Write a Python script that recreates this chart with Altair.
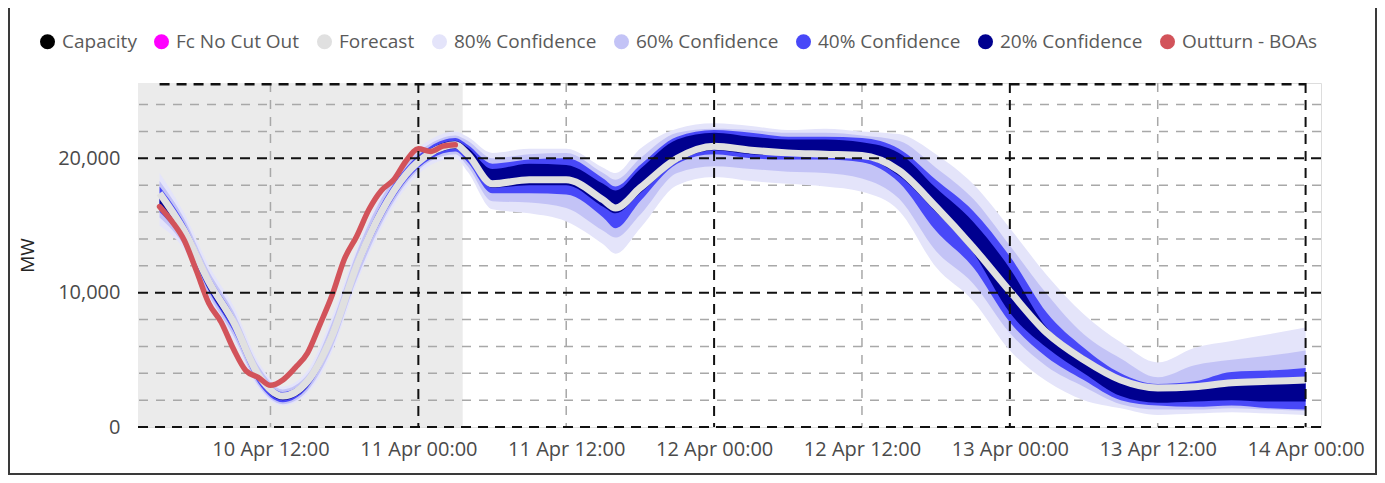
import altair as alt
import pandas as pd

BASE = pd.Timestamp("2024-04-10T00:00:00")


def ts(hours):
    return [(BASE + pd.Timedelta(hours=h)).strftime("%Y-%m-%dT%H:%M:%S") for h in hours]


def dt(h):
    d = BASE + pd.Timedelta(hours=h)
    return alt.DateTime(year=d.year, month=d.month, date=d.day, hours=d.hour, minutes=d.minute)


# ---------------- data (MW), hours after 10 Apr 00:00 ----------------
band_hours = [3, 5, 7, 9, 11, 13, 15, 17, 19, 21, 23, 25, 27,
              28, 30, 33, 36, 39, 40, 42, 45, 48, 51, 54, 57, 60,
              63, 66, 69, 72, 75, 78, 81, 84, 87, 90, 93, 96]
forecast = [17400, 14600, 10800, 7800, 3900, 2300, 3400, 6800, 12000, 16000, 18800, 20400, 21000,
            20300, 18100, 18400, 18400, 16900, 16300, 17800, 20000, 20900, 20600, 20400, 20300, 20200,
            19100, 16400, 13400, 10100, 7000, 5000, 3500, 2900, 3000, 3300, 3400, 3500]
p80_lo = [15000, 13200, 9500, 6500, 2900, 1600, 2500, 5600, 10700, 14800, 17800, 19500, 20000,
          19000, 16200, 15900, 15300, 13600, 12900, 14800, 18000, 18600, 18300, 18100, 17900, 17500,
          16100, 11900, 9400, 5700, 3400, 2000, 1400, 900, 1000, 1100, 1000, 900]
p80_hi = [18900, 15900, 12000, 9000, 4900, 3000, 4200, 8200, 13300, 17300, 19900, 21400, 22000,
          21600, 20400, 20700, 20700, 19300, 18900, 20700, 22200, 22600, 22400, 22100, 22200, 22000,
          21800, 20300, 18100, 14800, 11300, 8400, 6300, 4800, 5900, 6400, 6900, 7400]
p60_lo = [15600, 13500, 9800, 6800, 3100, 1700, 2700, 5900, 11000, 15100, 18100, 19800, 20300,
          19400, 16800, 16700, 16300, 14600, 14100, 15800, 18900, 19400, 19200, 19000, 18900, 18500,
          17000, 13100, 10700, 7000, 4500, 3000, 1700, 1300, 1300, 1400, 1300, 1200]
p60_hi = [18300, 15500, 11600, 8600, 4600, 2800, 3900, 7800, 13000, 17000, 19600, 21100, 21700,
          21300, 20000, 20300, 20400, 18900, 18400, 20000, 21900, 22200, 22100, 21900, 21900, 21700,
          21300, 19300, 17000, 13500, 9900, 6900, 5100, 3700, 4600, 5000, 5300, 5700]
p40_lo = [16000, 13800, 10100, 7100, 3300, 1850, 2900, 6300, 11400, 15400, 18300, 19950, 20500,
          19700, 17400, 17400, 17300, 15600, 14800, 16800, 19600, 20300, 20000, 19900, 19900, 19700,
          18200, 14600, 11900, 7800, 5200, 3500, 2000, 1600, 1500, 1600, 1400, 1300]
p40_hi = [17900, 15200, 11300, 8300, 4300, 2600, 3700, 7400, 12600, 16600, 19300, 20900, 21500,
          21000, 19600, 19900, 20000, 18500, 17900, 19500, 21600, 22100, 21900, 21600, 21600, 21500,
          20700, 18400, 16100, 12700, 8500, 5900, 4000, 3200, 3400, 4100, 4200, 4400]
p20_lo = [16300, 14000, 10200, 7300, 3500, 2000, 3000, 6500, 11600, 15600, 18500, 20100, 20700,
          19900, 17800, 18000, 18000, 16400, 15900, 17400, 19700, 20600, 20300, 20200, 20100, 20000,
          18700, 16000, 13000, 8500, 5900, 4000, 2300, 1800, 1900, 2000, 1900, 1900]
p20_hi = [17100, 14800, 10900, 8000, 4000, 2400, 3500, 7100, 12300, 16300, 19100, 20700, 21300,
          20800, 19200, 19600, 19500, 18100, 17600, 19200, 21400, 21900, 21600, 21400, 21400, 21200,
          20400, 17800, 15300, 11800, 7400, 5300, 3600, 3000, 3100, 3200, 3200, 3300]

outturn_hours = list(range(3, 28))
outturn = [16400, 15300, 13900, 11600, 9200, 7800, 5800, 4200, 3700, 3100, 3500, 4400, 5500,
           7600, 9800, 12500, 14200, 16200, 17600, 18400, 19800, 20700, 20500, 20900, 21000]

capacity_hours = [3, 96]
capacity = [25500, 25500]

past_start_h, past_end_h = 1.25, 27.6
y_domain = [0, 25600]
x_domain_h = [1.25, 97.25]

minor_y = [2000, 4000, 6000, 8000, 12000, 14000, 16000, 18000, 22000, 24000]
major_y = [0, 10000, 20000]
minor_x_h = [12, 36, 60, 84]
major_x_h = [24, 48, 72, 96]
tick_h = [12, 24, 36, 48, 60, 72, 84, 96]
y_ticks = [0, 10000, 20000]

series = ["Capacity", "Fc No Cut Out", "Forecast", "80% Confidence", "60% Confidence",
          "40% Confidence", "20% Confidence", "Outturn - BOAs"]
colors = ["#000000", "#FF00FF", "#E0E0E0", "#E4E4FA", "#C3C3F6", "#4848F8", "#00008F", "#D2535A"]
col = dict(zip(series, colors))

# ---------------- tables ----------------
bands = pd.DataFrame({"time": ts(band_hours), "forecast": forecast,
                      "p80_lo": p80_lo, "p80_hi": p80_hi, "p60_lo": p60_lo, "p60_hi": p60_hi,
                      "p40_lo": p40_lo, "p40_hi": p40_hi, "p20_lo": p20_lo, "p20_hi": p20_hi})
out_df = pd.DataFrame({"time": ts(outturn_hours), "v": outturn})
cap_df = pd.DataFrame({"time": ts(capacity_hours), "v": capacity})
past_df = pd.DataFrame({"start": ts([past_start_h]), "end": ts([past_end_h]),
                        "lo": [y_domain[0]], "hi": [y_domain[1]]})
miny_df = pd.DataFrame({"v": minor_y})
majy_df = pd.DataFrame({"v": major_y})
minx_df = pd.DataFrame({"time": ts(minor_x_h)})
majx_df = pd.DataFrame({"time": ts(major_x_h)})
leg_df = pd.DataFrame({"series": series, "time": ts([band_hours[0]] * len(series)),
                       "v": [y_domain[0]] * len(series)})

FONT = "Open Sans"
W, H = 1183, 344

x_scale = alt.Scale(domain=[dt(x_domain_h[0]), dt(x_domain_h[1])])
y_scale = alt.Scale(domain=y_domain, nice=False, zero=False)
x_axis = alt.Axis(values=[dt(h) for h in tick_h], format="%d %b %H:%M", grid=False, ticks=False,
                  domain=False, labelFont=FONT, labelFontSize=20, labelColor="#4A4A4A",
                  labelPadding=12, labelFlush=False, labelOverlap=False, title=None)
y_axis = alt.Axis(values=y_ticks, format=",d", grid=False, ticks=False, domain=False,
                  labelFont=FONT, labelFontSize=20, labelColor="#4A4A4A", labelPadding=18,
                  title="MW", titleFont=FONT, titleFontSize=19, titleFontWeight="normal",
                  titleColor="#252423", titlePadding=20)


def X(f):
    return alt.X(f, type="temporal", scale=x_scale, axis=x_axis)


def Y(f):
    return alt.Y(f, type="quantitative", scale=y_scale, axis=y_axis)


past = alt.Chart(past_df).mark_rect(color="#EBEBEB").encode(
    x=X("start"), x2="end", y=Y("lo"), y2="hi")

grid_minor_y = alt.Chart(miny_df).mark_rule(color="#A8A8A8", strokeWidth=1.5, strokeDash=[9, 8]).encode(y=Y("v"))
grid_minor_x = alt.Chart(minx_df).mark_rule(color="#A8A8A8", strokeWidth=1.5, strokeDash=[9, 8]).encode(x=X("time"))


def band(lo, hi, c):
    return alt.Chart(bands).mark_area(color=c, interpolate="monotone", opacity=1).encode(
        x=X("time"), y=Y(lo), y2=hi)


b80 = band("p80_lo", "p80_hi", col["80% Confidence"])
b60 = band("p60_lo", "p60_hi", col["60% Confidence"])
b40 = band("p40_lo", "p40_hi", col["40% Confidence"])
b20 = band("p20_lo", "p20_hi", col["20% Confidence"])

fc_line = alt.Chart(bands).mark_line(color="#E0E0E0", strokeWidth=7, interpolate="monotone").encode(
    x=X("time"), y=Y("forecast"))
out_line = alt.Chart(out_df).mark_line(color=col["Outturn - BOAs"], strokeWidth=5.5,
                                       interpolate="monotone", strokeCap="round").encode(
    x=X("time"), y=Y("v"))

grid_major_y = alt.Chart(majy_df).mark_rule(color="#111111", strokeWidth=2, strokeDash=[10, 7]).encode(y=Y("v"))
grid_major_x = alt.Chart(majx_df).mark_rule(color="#111111", strokeWidth=2, strokeDash=[10, 7]).encode(x=X("time"))
cap_line = alt.Chart(cap_df).mark_line(color="#111111", strokeWidth=2.5, strokeDash=[10, 7]).encode(
    x=X("time"), y=Y("v"))

legend_layer = alt.Chart(leg_df).mark_circle(opacity=0).encode(
    x=X("time"), y=Y("v"),
    color=alt.Color("series:N", scale=alt.Scale(domain=series, range=colors),
                    legend=alt.Legend(orient="none", legendX=-100, legendY=-51, direction="horizontal",
                                      columns=8, title=None, symbolType="circle", symbolSize=225,
                                      symbolOpacity=1, symbolStrokeWidth=0, labelFont=FONT,
                                      labelFontSize=19, labelColor="#5A5A5A", labelOffset=5,
                                      columnPadding=15, padding=0)))

frame = alt.Chart(past_df).mark_rect(fillOpacity=0, stroke="#3A3A3A", strokeWidth=2).encode(
    x=alt.value(-129), x2=alt.value(1238), y=alt.value(-95), y2=alt.value(391))

chart = alt.layer(
    past, grid_minor_y, grid_minor_x, b80, b60, b40, b20, fc_line, out_line,
    grid_major_y, grid_major_x, cap_line, legend_layer, frame
).properties(
    width=W, height=H,
    autosize=alt.AutoSizeParams(type="none"),
    padding={"left": 130, "top": 75, "right": 56, "bottom": 48},
    background="white",
).configure_view(stroke=None).configure(font=FONT)

chart.save("out.html", embed_options={"renderer": "svg", "actions": False})
